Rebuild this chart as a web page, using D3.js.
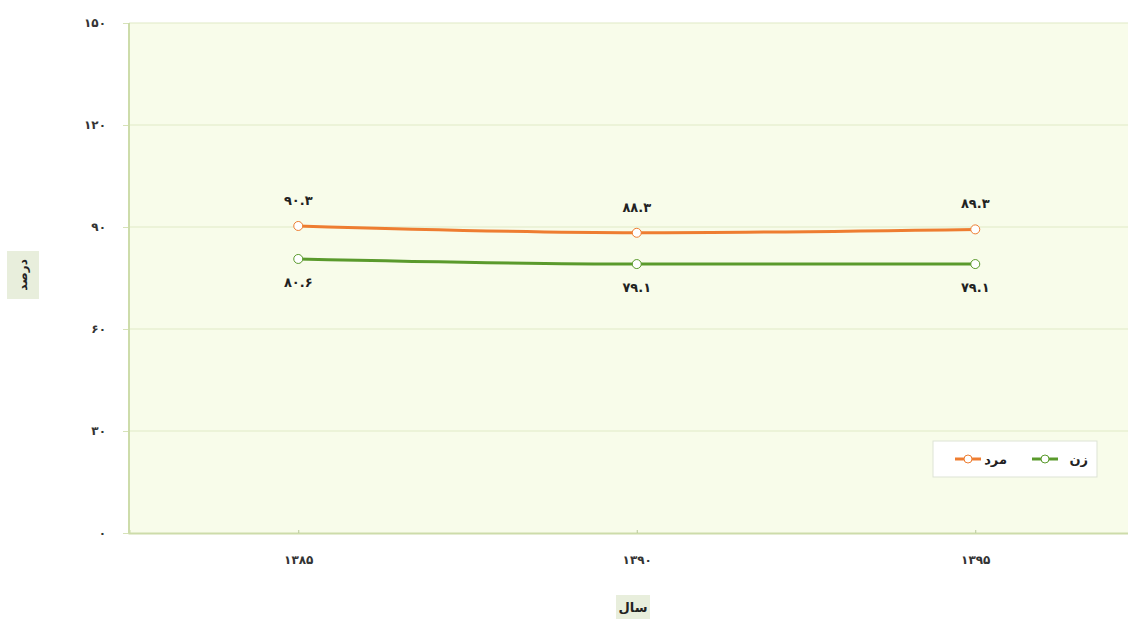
<!DOCTYPE html>
<html>
<head>
<meta charset="utf-8">
<script src="https://cdn.jsdelivr.net/npm/d3@7"></script>
<style>
  body { margin: 0; background: #fff; overflow: hidden; }
  text { font-family: "DejaVu Sans", sans-serif; }
</style>
</head>
<body>
<div id="chart"></div>
<script>
// data
let years = ["1385", "1390", "1395"];
let male = [90.3, 88.3, 89.3];
let female = [80.6, 79.1, 79.1];
let yTicks = [0, 30, 60, 90, 120, 150];

let margin = { top: 23, left: 129, bottom: 88 };
let W = 1128, H = 621;
let plotRight = 1144.5;

// persian digits
let fa = s => String(s).replace(/\d/g, c => "۰۱۲۳۴۵۶۷۸۹"[+c]);

let svg = d3.select("#chart").append("svg")
  .attr("width", W)
  .attr("height", H);

let x = d3.scalePoint().domain(years).range([margin.left, plotRight]).padding(0.5);
let y = d3.scaleLinear().domain([0, 150]).range([H - margin.bottom, margin.top]);

// plot background
svg.append("rect")
  .attr("x", margin.left)
  .attr("y", y(150))
  .attr("width", plotRight - margin.left)
  .attr("height", y(0) - y(150))
  .attr("fill", "#f8fcea");

// gridlines + y axis
let yAxis = svg.append("g")
  .attr("transform", "translate(" + margin.left + ",0)")
  .call(d3.axisLeft(y).tickValues(yTicks).tickSize(6).tickFormat(fa));
yAxis.select(".domain").remove();
yAxis.selectAll(".tick line").attr("stroke", "#d6e2b8");
yAxis.selectAll(".tick text")
  .attr("x", -23)
  .attr("font-size", 12)
  .attr("font-weight", "bold")
  .attr("fill", "#333");

svg.append("g").selectAll("line")
  .data(yTicks.filter(d => d > 0))
  .enter().append("line")
  .attr("x1", margin.left)
  .attr("x2", plotRight)
  .attr("y1", d => y(d))
  .attr("y2", d => y(d))
  .attr("stroke", "#dfe9c6")
  .attr("stroke-width", 1.2);

// axis lines
svg.append("line")
  .attr("x1", margin.left).attr("x2", margin.left)
  .attr("y1", y(150)).attr("y2", y(0))
  .attr("stroke", "#cddcaa").attr("stroke-width", 2);

let xAxis = svg.append("g")
  .attr("transform", "translate(0," + y(0) + ")")
  .call(d3.axisBottom(x).tickSize(-3).tickFormat(fa));
xAxis.select(".domain").attr("stroke", "#cddcaa").attr("stroke-width", 2);
xAxis.selectAll(".tick line").attr("stroke", "#b9c99a");
xAxis.selectAll(".tick text")
  .attr("y", 22)
  .attr("font-size", 12)
  .attr("font-weight", "bold")
  .attr("fill", "#333");

// lines
let series = [
  { name: "مرد", values: male, color: "#ee7d31", dy: -21 },
  { name: "زن", values: female, color: "#5a9a2c", dy: 28 }
];

let line = d3.line()
  .x((d, i) => x(years[i]))
  .y(d => y(d))
  .curve(d3.curveMonotoneX);

series.forEach(function(s) {
  svg.append("path")
    .datum(s.values)
    .attr("d", line)
    .attr("fill", "none")
    .attr("stroke", s.color)
    .attr("stroke-width", 3);

  svg.selectAll(".pt-" + s.dy)
    .data(s.values)
    .enter().append("circle")
    .attr("cx", (d, i) => x(years[i]))
    .attr("cy", d => y(d))
    .attr("r", 4.5)
    .attr("fill", "#fff")
    .attr("stroke", s.color)
    .attr("stroke-width", 1);

  svg.selectAll(".lb-" + s.dy)
    .data(s.values)
    .enter().append("text")
    .attr("x", (d, i) => x(years[i]))
    .attr("y", d => y(d) + s.dy)
    .attr("text-anchor", "middle")
    .attr("font-size", 13)
    .attr("font-weight", "bold")
    .attr("fill", "#222")
    .text(d => fa(d.toFixed(1)));
});

// legend
let lg = svg.append("g");
lg.append("rect")
  .attr("x", 933).attr("y", 441)
  .attr("width", 164).attr("height", 36)
  .attr("fill", "#fff")
  .attr("stroke", "#dde3d5");

let legendItems = [
  { name: "زن", color: "#5a9a2c", lx: 1032, tx: 1088 },
  { name: "مرد", color: "#ee7d31", lx: 955, tx: 1007 }
];
legendItems.forEach(function(it) {
  lg.append("line")
    .attr("x1", it.lx).attr("x2", it.lx + 26)
    .attr("y1", 459).attr("y2", 459)
    .attr("stroke", it.color).attr("stroke-width", 3);
  lg.append("circle")
    .attr("cx", it.lx + 13).attr("cy", 459).attr("r", 4)
    .attr("fill", "#fff").attr("stroke", it.color);
  lg.append("text")
    .attr("x", it.tx).attr("y", 464)
    .attr("text-anchor", "end")
    .attr("font-size", 13)
    .attr("font-weight", "bold")
    .attr("fill", "#222")
    .text(it.name);
});

// axis titles
svg.append("rect")
  .attr("x", 7).attr("y", 251).attr("width", 32).attr("height", 48)
  .attr("fill", "#e8eedc");
svg.append("text")
  .attr("transform", "translate(27,275) rotate(-90)")
  .attr("text-anchor", "middle")
  .attr("font-size", 12)
  .attr("font-weight", "bold")
  .attr("fill", "#222")
  .text("درصد");

svg.append("rect")
  .attr("x", 616).attr("y", 595).attr("width", 34).attr("height", 24)
  .attr("fill", "#e8eedc");
svg.append("text")
  .attr("x", 633).attr("y", 612)
  .attr("text-anchor", "middle")
  .attr("font-size", 13)
  .attr("font-weight", "bold")
  .attr("fill", "#222")
  .text("سال");
</script>
</body>
</html>
